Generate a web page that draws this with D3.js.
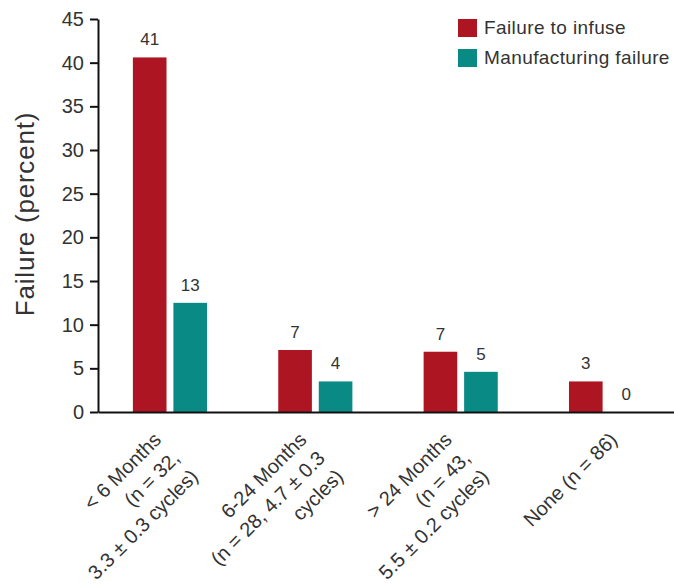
<!DOCTYPE html>
<html>
<head>
<meta charset="utf-8">
<script src="https://cdn.jsdelivr.net/npm/d3@7"></script>
<style>
  html, body { margin: 0; padding: 0; background: #fff; }
  svg { display: block; font-family: "Liberation Sans", Arial, Helvetica, sans-serif; }
</style>
</head>
<body>
<svg id="chart" width="674" height="584"></svg>
<script>
// ---- data ----
const categories = ["lt6", "6to24", "gt24", "none"];
const categoryLabelLines = [
  ["< 6 Months", "(n = 32,", "3.3 ± 0.3 cycles)"],
  ["6-24 Months", "(n = 28, 4.7 ± 0.3", "cycles)"],
  ["> 24 Months", "(n = 43,", "5.5 ± 0.2 cycles)"],
  ["None (n = 86)"]
];
const seriesNames = ["Failure to infuse", "Manufacturing failure"];
const failureToInfuse = [40.6, 7.1, 6.9, 3.5];
const manufacturingFailure = [12.5, 3.5, 4.6, 0];
const failureToInfuseLabels = ["41", "7", "7", "3"];
const manufacturingFailureLabels = ["13", "4", "5", "0"];
const yTicks = [0, 5, 10, 15, 20, 25, 30, 35, 40, 45];
const yTitle = "Failure (percent)";
const seriesColors = ["#AD1522", "#0A8A84"];

// ---- layout ----
const svg = d3.select("#chart");
const plotLeft = 98, plotRight = 678, plotTop = 19, plotBottom = 412;

const x0 = d3.scaleBand().domain(categories).range([plotLeft, plotRight])
  .paddingInner(0.49).paddingOuter(0.24);
const x1 = d3.scaleBand().domain(seriesNames).range([0, x0.bandwidth()])
  .paddingInner(0.17);
const y = d3.scaleLinear().domain([0, 45]).range([plotBottom, plotTop]);

const seriesValues = [failureToInfuse, manufacturingFailure];
const seriesLabels = [failureToInfuseLabels, manufacturingFailureLabels];

const rows = [];
categories.forEach((c, i) => {
  seriesNames.forEach((s, j) => {
    rows.push({cat: c, series: s, value: seriesValues[j][i], label: seriesLabels[j][i], color: seriesColors[j]});
  });
});

// bars
svg.append("g").selectAll("rect").data(rows).join("rect")
  .attr("x", d => x0(d.cat) + x1(d.series))
  .attr("y", d => y(d.value))
  .attr("width", x1.bandwidth())
  .attr("height", d => y(0) - y(d.value))
  .attr("fill", d => d.color);

// value labels
svg.append("g").selectAll("text").data(rows).join("text")
  .attr("x", d => x0(d.cat) + x1(d.series) + x1.bandwidth() / 2)
  .attr("y", d => y(d.value) - 12)
  .attr("text-anchor", "middle")
  .attr("font-size", 17)
  .attr("fill", "#333")
  .text(d => d.label);

// y axis
const yAxis = svg.append("g")
  .attr("transform", `translate(${plotLeft},0)`)
  .call(d3.axisLeft(y).tickValues(yTicks).tickSize(8).tickSizeOuter(0).tickPadding(6));
yAxis.select(".domain").attr("stroke", "#111").attr("stroke-width", 2);
yAxis.selectAll(".tick line").attr("stroke", "#111").attr("stroke-width", 2);
yAxis.selectAll(".tick text").attr("font-size", 20).attr("fill", "#333")
  .attr("font-family", "'Liberation Sans', Arial, sans-serif");

// x axis
const xAxis = svg.append("g")
  .attr("transform", `translate(0,${plotBottom})`)
  .call(d3.axisBottom(x0).tickSize(0).tickSizeOuter(0).tickFormat(""));
xAxis.select(".domain").attr("stroke", "#111").attr("stroke-width", 2);

// x category labels (rotated, right-aligned, multi-line)
const lineH = 26;
const labelG = svg.append("g");
categories.forEach((c, i) => {
  const lines = categoryLabelLines[i];
  const n = lines.length;
  const cx = x0(c) + x0.bandwidth() / 2 + 12.5 - (n - 1) * 10;
  const cy = 441;
  const t = labelG.append("text")
    .attr("transform", `translate(${cx},${cy}) rotate(-45)`)
    .attr("text-anchor", "end")
    .attr("font-size", 20)
    .attr("fill", "#333");
  lines.forEach((ln, k) => {
    t.append("tspan").attr("x", 0).attr("y", k * lineH).text(ln);
  });
});

// y title
svg.append("text")
  .attr("transform", "translate(34,214) rotate(-90)")
  .attr("text-anchor", "middle")
  .attr("font-size", 26)
  .attr("letter-spacing", 0.8)
  .attr("fill", "#333")
  .text(yTitle);

// legend
const legend = svg.append("g");
seriesNames.forEach((s, j) => {
  legend.append("rect")
    .attr("x", 458).attr("y", 19 + j * 30)
    .attr("width", 19).attr("height", 18)
    .attr("fill", seriesColors[j]);
  legend.append("text")
    .attr("x", 484).attr("y", 34 + j * 30)
    .attr("font-size", 19)
    .attr("letter-spacing", 0.4)
    .attr("fill", "#333")
    .text(s);
});
</script>
</body>
</html>
